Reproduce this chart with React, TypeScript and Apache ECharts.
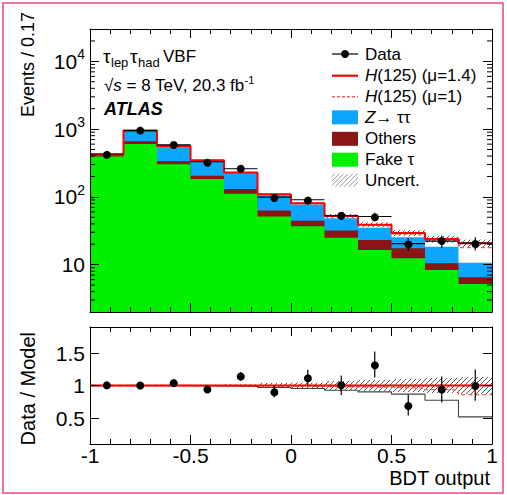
import React, { useEffect, useRef } from "react";
import * as echarts from "echarts";

// ---------- data ----------
const binEdges = [-1, -0.8333, -0.6667, -0.5, -0.3333, -0.1667, 0, 0.1667, 0.3333, 0.5, 0.6667, 0.8333, 1];
const fakeTau = [395, 603, 303, 183, 111, 51.4, 37, 25, 16.4, 12.4, 8.35, 5.2];
const others = [19, 57, 32, 22, 20, 11.6, 7.4, 7, 6.6, 5.1, 2.15, 1.3];
const zTauTau = [8, 290, 227, 139, 94, 42.6, 32.6, 16.5, 12, 7.9, 7.9, 4.2];
const higgsMu14 = [1, 3, 2, 2, 3.4, 3.3, 3.7, 3.8, 3.8, 3.9, 5.4, 10.0];
const higgsMu1 = [0.7, 2.1, 1.4, 1.4, 2.4, 2.4, 2.6, 2.7, 2.7, 2.8, 3.9, 7.1];
const dataEvents = [429, 950, 584, 330, 260, 99, 90.6, 52.6, 51.3, 20.4, 22.3, 20.8];
const dataErr = [21, 31, 24, 18, 16, 10, 9.5, 7.3, 7.2, 4.5, 4.7, 4.6];
const ratioData = [1.015, 1.0, 1.036, 0.954, 1.138, 0.908, 1.123, 1.005, 1.323, 0.697, 0.938, 1.005];
const ratioErr = [0.05, 0.035, 0.045, 0.055, 0.065, 0.09, 0.12, 0.15, 0.2, 0.16, 0.2, 0.24];
const relUncert = [0.01, 0.01, 0.012, 0.015, 0.02, 0.04, 0.045, 0.07, 0.085, 0.1, 0.115, 0.13];
const ratioTicks = [0.5, 1, 1.5];
const legendLabels = ["Data", "{i|H}(125) (μ=1.4)", "{i|H}(125) (μ=1)", "{i|Z}→ ττ", "Others", "Fake τ", "Uncert."];

const Y_MIN = 2;
const Y_MAX = 30000;
const R_MIN = 0.1;
const R_MAX = 1.9;

const FONT = "'Liberation Sans', Arial, Helvetica, sans-serif";
const C_GREEN = "#00f000";
const C_BLUE = "#0aa6ff";
const C_DRED = "#8b1515";
const C_RED = "#ff0000";
const C_RED_D = "#ff5a5a";

// ---------- derived ----------
const cumOthers = fakeTau.map((v, i) => v + others[i]);
const bkg = cumOthers.map((v, i) => v + zTauTau[i]);
const total14 = bkg.map((v, i) => v + higgsMu14[i]);
const total1 = bkg.map((v, i) => v + higgsMu1[i]);
const stepData = (arr: number[]) => binEdges.map((e, i) => [e, arr[Math.min(i, arr.length - 1)]]);
const binRange = (i: number) => [binEdges[i], binEdges[i + 1]];

function hatch(x: number, y: number, w: number, h: number, step: number, stroke: string, lw: number) {
  const out: any[] = [];
  const c0 = Math.ceil((x + y) / step) * step;
  for (let c = c0; c <= x + w + y + h; c += step) {
    const xa = Math.max(x, c - (y + h));
    const xb = Math.min(x + w, c - y);
    if (xb - xa > 0.2) {
      out.push({ type: "line", shape: { x1: xa, y1: c - xa, x2: xb, y2: c - xb }, style: { stroke, lineWidth: lw } });
    }
  }
  return out;
}

const hatchRender = (params: any, api: any) => {
  const p1 = api.coord([api.value(0), api.value(3)]);
  const p2 = api.coord([api.value(1), api.value(2)]);
  return { type: "group", children: hatch(p1[0], p1[1], p2[0] - p1[0], p2[1] - p1[1], 5, "#555", 1) };
};

const mkX = (gridIndex: number, position: string, labels: boolean) => ({
  type: "value",
  gridIndex,
  position,
  min: -1,
  max: 1,
  interval: 0.5,
  z: 11,
  axisLine: { show: true, onZero: false, lineStyle: { color: "#000", width: 1 } },
  axisTick: { show: true, inside: true, length: 9, lineStyle: { color: "#000", width: 1 } },
  minorTick: { show: true, splitNumber: 5, length: 5, lineStyle: { color: "#000", width: 1 } },
  splitLine: { show: false },
  minorSplitLine: { show: false },
  axisLabel: { show: labels, fontSize: 21, lineHeight: 21, color: "#000", margin: 1, fontFamily: FONT },
});

const mkLogY = (position: string, labels: boolean) => ({
  type: "log",
  logBase: 10,
  gridIndex: 0,
  position,
  min: Y_MIN,
  max: Y_MAX,
  z: 11,
  axisLine: { show: true, onZero: false, lineStyle: { color: "#000", width: 1 } },
  axisTick: { show: true, inside: true, length: 9, lineStyle: { color: "#000", width: 1 } },
  splitLine: { show: false },
  axisLabel: {
    show: labels,
    showMinLabel: false,
    showMaxLabel: false,
    margin: 5,
    color: "#000",
    fontFamily: FONT,
    fontSize: 21,
    formatter: (v: number) => {
      const e = Math.round(Math.log10(v));
      return e === 1 ? "{b|10}" : `{b|10}{s|${e}}`;
    },
    rich: {
      b: { fontSize: 21, lineHeight: 28, fontFamily: FONT, color: "#000" },
      s: { fontSize: 14, lineHeight: 14, verticalAlign: "top", fontFamily: FONT, color: "#000" },
    },
  },
});

const mkRY = (position: string, labels: boolean) => ({
  type: "value",
  gridIndex: 1,
  position,
  min: R_MIN,
  max: R_MAX,
  z: 11,
  axisLine: { show: true, onZero: false, lineStyle: { color: "#000", width: 1 } },
  axisTick: { show: true, inside: true, length: 9, customValues: ratioTicks, lineStyle: { color: "#000", width: 1 } },
  splitLine: { show: false },
  axisLabel: { show: labels, customValues: ratioTicks, fontSize: 21, margin: 5, color: "#000", fontFamily: FONT },
});

// minor log ticks (2..9 x 10^k inside the axis range)
const logMinorTicks: number[] = [];
for (let k = 0; k <= 4; k++) {
  for (let m = 2; m <= 9; m++) {
    const v = m * Math.pow(10, k);
    if (v > Y_MIN && v < Y_MAX) logMinorTicks.push(v);
  }
}

const areaSeries = (arr: number[], color: string, z: number) => ({
  type: "line",
  xAxisIndex: 0,
  yAxisIndex: 0,
  data: stepData(arr),
  step: "end",
  symbol: "none",
  silent: true,
  z,
  lineStyle: { width: 0, color },
  areaStyle: { color, opacity: 1, origin: "start" },
});

const stepLine = (arr: number[], xi: number, yi: number, color: string, width: number, type: any, z: number) => ({
  type: "line",
  xAxisIndex: xi,
  yAxisIndex: yi,
  data: stepData(arr),
  step: "end",
  symbol: "none",
  silent: true,
  z,
  lineStyle: { width, color, type },
});

// ---------- legend & texts (layout only) ----------
const LX0 = 332;
const LX1 = 358;
const TX = 365;
const legendY = [54, 75.7, 96.7, 117.3, 138.8, 159.7, 180.2];
const legendRich = { i: { fontStyle: "italic", fontSize: 17, fontFamily: FONT, fill: "#000" } };

const graphics: any[] = [
  { type: "line", shape: { x1: LX0, y1: legendY[0], x2: LX1, y2: legendY[0] }, style: { stroke: "#000", lineWidth: 1.2 }, z: 20 },
  { type: "circle", shape: { cx: (LX0 + LX1) / 2, cy: legendY[0], r: 4 }, style: { fill: "#000" }, z: 20 },
  { type: "line", shape: { x1: LX0, y1: legendY[1], x2: LX1, y2: legendY[1] }, style: { stroke: C_RED, lineWidth: 2.2 }, z: 20 },
  { type: "line", shape: { x1: LX0, y1: legendY[2], x2: LX1, y2: legendY[2] }, style: { stroke: C_RED_D, lineWidth: 1.4, lineDash: [3, 2] }, z: 20 },
  { type: "rect", shape: { x: LX0, y: legendY[3] - 7, width: LX1 - LX0, height: 14 }, style: { fill: C_BLUE }, z: 20 },
  { type: "rect", shape: { x: LX0, y: legendY[4] - 7, width: LX1 - LX0, height: 14 }, style: { fill: C_DRED }, z: 20 },
  { type: "rect", shape: { x: LX0, y: legendY[5] - 7, width: LX1 - LX0, height: 14 }, style: { fill: C_GREEN }, z: 20 },
  { type: "group", z: 20, children: hatch(LX0, legendY[6] - 6.5, LX1 - LX0, 13, 4.5, "#999", 1) },
  ...legendLabels.map((t, i) => ({
    type: "text",
    x: TX,
    y: legendY[i],
    z: 20,
    style: { text: t, rich: legendRich, fontSize: 17, fontFamily: FONT, fill: "#000", verticalAlign: "middle", align: "left" },
  })),
  // channel label
  { type: "text", x: 103, y: 56, z: 20, style: { text: "τ", fontSize: 19, fontFamily: FONT, fill: "#000", verticalAlign: "middle" } },
  { type: "text", x: 111, y: 62, z: 20, style: { text: "lep", fontSize: 13, fontFamily: FONT, fill: "#000", verticalAlign: "middle" } },
  { type: "text", x: 130, y: 56, z: 20, style: { text: "τ", fontSize: 19, fontFamily: FONT, fill: "#000", verticalAlign: "middle" } },
  { type: "text", x: 138, y: 62, z: 20, style: { text: "had", fontSize: 13, fontFamily: FONT, fill: "#000", verticalAlign: "middle" } },
  { type: "text", x: 163, y: 56, z: 20, style: { text: "VBF", fontSize: 17, fontFamily: FONT, fill: "#000", verticalAlign: "middle" } },
  {
    type: "text",
    x: 104,
    y: 85,
    z: 20,
    style: {
      text: "{n|√}{i|s}{n| = 8 TeV, 20.3 fb}{p|-1}",
      fontSize: 17,
      fontFamily: FONT,
      fill: "#000",
      verticalAlign: "middle",
      rich: {
        n: { fontSize: 17, lineHeight: 22, fontFamily: FONT, fill: "#000" },
        i: { fontSize: 17, lineHeight: 22, fontStyle: "italic", fontFamily: FONT, fill: "#000" },
        p: { fontSize: 11, lineHeight: 11, verticalAlign: "top", fontFamily: FONT, fill: "#000" },
      },
    },
  },
  {
    type: "text",
    x: 104,
    y: 109,
    z: 20,
    style: { text: "ATLAS", fontSize: 18, fontWeight: "bold", fontStyle: "italic", fontFamily: FONT, fill: "#000", verticalAlign: "middle" },
  },
  // axis titles
  {
    type: "text",
    x: 28,
    y: 12,
    rotation: Math.PI / 2,
    z: 20,
    style: { text: "Events / 0.17", fontSize: 18, fontFamily: FONT, fill: "#000", align: "right", verticalAlign: "middle" },
  },
  {
    type: "text",
    x: 28,
    y: 332,
    rotation: Math.PI / 2,
    z: 20,
    style: { text: "Data / Model", fontSize: 20, fontFamily: FONT, fill: "#000", align: "right", verticalAlign: "middle" },
  },
  {
    type: "text",
    x: 490,
    y: 478,
    z: 20,
    style: { text: "BDT output", fontSize: 20, fontFamily: FONT, fill: "#000", align: "right", verticalAlign: "middle" },
  },
  // outer frame
  {
    type: "rect",
    z: 30,
    shape: { x: 3, y: 3, width: 500, height: 490 },
    style: { fill: "none", stroke: "#e2487c", lineWidth: 1.5 },
  },
];

const option: any = {
  animation: false,
  backgroundColor: "#fff",
  textStyle: { fontFamily: FONT },
  grid: [
    { left: 90, top: 29, width: 402, height: 283, outerBoundsMode: "none", containLabel: false },
    { left: 90, top: 327, width: 402, height: 117, outerBoundsMode: "none", containLabel: false },
  ],
  xAxis: [mkX(0, "bottom", false), mkX(0, "top", false), mkX(1, "bottom", true), mkX(1, "top", false)],
  yAxis: [mkLogY("left", true), mkLogY("right", false), mkRY("left", true), mkRY("right", false)],
  series: [
    // stacked histogram, drawn cumulatively from the bottom
    areaSeries(bkg, C_BLUE, 1),
    areaSeries(cumOthers, C_DRED, 2),
    areaSeries(fakeTau, C_GREEN, 3),
    {
      type: "custom",
      xAxisIndex: 0,
      yAxisIndex: 0,
      z: 4,
      silent: true,
      clip: true,
      encode: { x: [0, 1], y: [2, 3] },
      data: total14.map((t, i) => [...binRange(i), t * (1 - relUncert[i]), t * (1 + relUncert[i])]),
      renderItem: hatchRender,
    },
    stepLine(total1, 0, 0, C_RED_D, 1.4, [4, 3], 5),
    stepLine(total14, 0, 0, C_RED, 2, "solid", 6),
    {
      type: "custom",
      xAxisIndex: 0,
      yAxisIndex: 0,
      z: 7,
      silent: true,
      clip: true,
      encode: { x: 0, y: 1 },
      data: dataEvents.map((d, i) => [(binEdges[i] + binEdges[i + 1]) / 2, d, dataErr[i], binEdges[i], binEdges[i + 1]]),
      renderItem: (params: any, api: any) => {
        const xc = api.value(0);
        const v = api.value(1);
        const e = api.value(2);
        const c = api.coord([xc, v]);
        const top = api.coord([xc, v + e]);
        const bot = api.coord([xc, v - e]);
        const l = api.coord([api.value(3), v]);
        const r = api.coord([api.value(4), v]);
        return {
          type: "group",
          children: [
            { type: "line", shape: { x1: l[0], y1: c[1], x2: r[0], y2: c[1] }, style: { stroke: "#000", lineWidth: 1.2 } },
            { type: "line", shape: { x1: c[0], y1: top[1], x2: c[0], y2: bot[1] }, style: { stroke: "#000", lineWidth: 1.2 } },
            { type: "circle", shape: { cx: c[0], cy: c[1], r: 4 }, style: { fill: "#000" } },
          ],
        };
      },
    },
    {
      type: "custom",
      xAxisIndex: 0,
      yAxisIndex: 0,
      z: 12,
      silent: true,
      encode: { x: 0, y: 1 },
      data: logMinorTicks.map((v) => [0, v]),
      renderItem: (params: any, api: any) => {
        const p = api.coord([0, api.value(1)]);
        const cs = params.coordSys;
        return {
          type: "group",
          children: [
            { type: "line", shape: { x1: cs.x, y1: p[1], x2: cs.x + 5, y2: p[1] }, style: { stroke: "#000", lineWidth: 1 } },
            { type: "line", shape: { x1: cs.x + cs.width - 5, y1: p[1], x2: cs.x + cs.width, y2: p[1] }, style: { stroke: "#000", lineWidth: 1 } },
          ],
        };
      },
    },
    // ---------- ratio panel ----------
    {
      type: "custom",
      xAxisIndex: 2,
      yAxisIndex: 2,
      z: 2,
      silent: true,
      clip: true,
      encode: { x: [0, 1], y: [2, 3] },
      data: relUncert.map((u, i) => [...binRange(i), 1 - u, 1 + u]),
      renderItem: hatchRender,
    },
    stepLine(bkg.map((b, i) => b / total14[i]), 2, 2, "#444", 1.1, "solid", 3),
    stepLine(total1.map((t, i) => t / total14[i]), 2, 2, C_RED_D, 1.4, [4, 3], 4),
    {
      type: "line",
      xAxisIndex: 2,
      yAxisIndex: 2,
      data: [[-1, 1], [1, 1]],
      symbol: "none",
      silent: true,
      z: 5,
      lineStyle: { color: C_RED, width: 2 },
    },
    {
      type: "custom",
      xAxisIndex: 2,
      yAxisIndex: 2,
      z: 7,
      silent: true,
      clip: true,
      encode: { x: 0, y: 1 },
      data: ratioData.map((d, i) => [(binEdges[i] + binEdges[i + 1]) / 2, d, ratioErr[i]]),
      renderItem: (params: any, api: any) => {
        const xc = api.value(0);
        const v = api.value(1);
        const e = api.value(2);
        const c = api.coord([xc, v]);
        const top = api.coord([xc, v + e]);
        const bot = api.coord([xc, v - e]);
        return {
          type: "group",
          children: [
            { type: "line", shape: { x1: c[0], y1: top[1], x2: c[0], y2: bot[1] }, style: { stroke: "#000", lineWidth: 1.2 } },
            { type: "circle", shape: { cx: c[0], cy: c[1], r: 4 }, style: { fill: "#000" } },
          ],
        };
      },
    },
  ],
  graphic: graphics,
};

export default function App() {
  const ref = useRef<HTMLDivElement>(null);
  useEffect(() => {
    if (!ref.current) return;
    const chart = echarts.init(ref.current, null, { renderer: "svg" });
    chart.setOption(option);
    return () => chart.dispose();
  }, []);
  return (
    <div
      ref={ref}
      style={{ position: "fixed", left: 0, top: 0, width: 507, height: 495, background: "#fff" }}
    />
  );
}
